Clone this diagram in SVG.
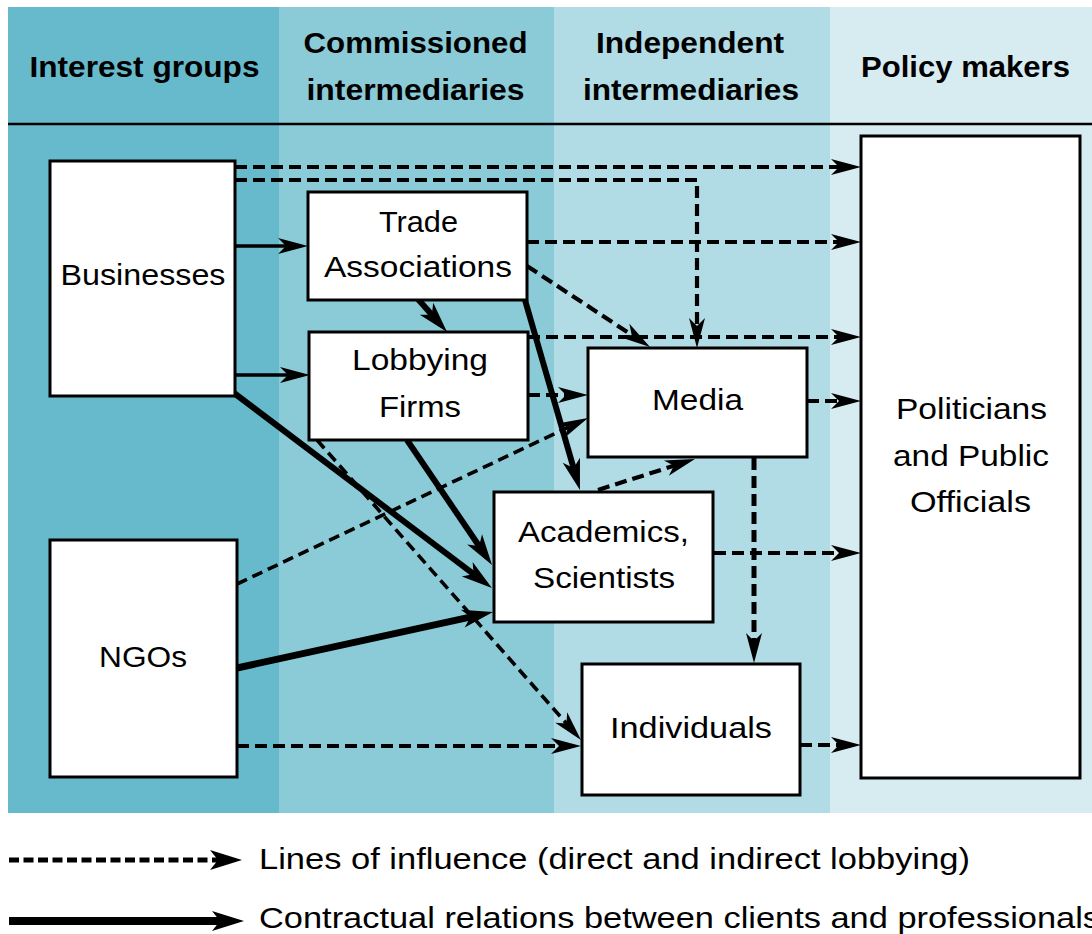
<svg xmlns="http://www.w3.org/2000/svg" width="1092" height="934" viewBox="0 0 1092 934">
  <style>
    text { font-family: "Liberation Sans", Arial, sans-serif; fill: #000; }
    .hdr { font-size: 29px; font-weight: bold; text-anchor: middle; }
    .lbl { font-size: 30px; text-anchor: middle; }
    .leg { font-size: 30px; }
    .box { fill: #fff; stroke: #000; stroke-width: 3; }
    .inf { fill: none; stroke: #000; stroke-width: 4.2; stroke-dasharray: 12 6; marker-end: url(#ah); }
    .infd { fill: none; stroke: #000; stroke-width: 3.6; stroke-dasharray: 11 6; marker-end: url(#ah); }
    .con { fill: none; stroke: #000; stroke-width: 3.5; marker-end: url(#ah); }
    .conb { fill: none; stroke: #000; stroke-width: 6; marker-end: url(#big); }
  </style>
  <defs>
    <marker id="ah" markerUnits="userSpaceOnUse" markerWidth="30" markerHeight="16" refX="12" refY="8" orient="auto" overflow="visible">
      <path d="M0,0 L30,8 L0,16 L8,8 Z" fill="#000"/>
    </marker>
    <marker id="big" markerUnits="userSpaceOnUse" markerWidth="31" markerHeight="18" refX="11" refY="9" orient="auto" overflow="visible">
      <path d="M0,0 L31,9 L0,18 L8,9 Z" fill="#000"/>
    </marker>
    <marker id="leg" markerUnits="userSpaceOnUse" markerWidth="32" markerHeight="20" refX="12" refY="10" orient="auto" overflow="visible">
      <path d="M0,0 L32,10 L0,20 L8,10 Z" fill="#000"/>
    </marker>
  </defs>

  <rect width="1092" height="934" fill="#fff"/>

  <!-- column bands -->
  <g id="columns">
    <rect x="8" y="7" width="271" height="806" fill="#67bacc"/>
    <rect x="279" y="7" width="275" height="806" fill="#8bcbd7"/>
    <rect x="554" y="7" width="276" height="806" fill="#b1dce5"/>
    <rect x="830" y="7" width="262" height="806" fill="#d7ecf1"/>
    <line x1="8" y1="124" x2="1092" y2="124" stroke="#000" stroke-width="2.5"/>
  </g>

  <!-- column headings -->
  <g id="headings">
    <text class="hdr" x="144.5" y="77" textLength="230" lengthAdjust="spacingAndGlyphs">Interest groups</text>
    <text class="hdr" x="415.5" y="53" textLength="224" lengthAdjust="spacingAndGlyphs">Commissioned</text>
    <text class="hdr" x="415.5" y="100" textLength="218" lengthAdjust="spacingAndGlyphs">intermediaries</text>
    <text class="hdr" x="690" y="53" textLength="188" lengthAdjust="spacingAndGlyphs">Independent</text>
    <text class="hdr" x="691" y="100" textLength="216" lengthAdjust="spacingAndGlyphs">intermediaries</text>
    <text class="hdr" x="965.5" y="77" textLength="209" lengthAdjust="spacingAndGlyphs">Policy makers</text>
  </g>

  <!-- connectors (line ends stop short of the tip; the marker carries the point) -->
  <g id="connectors">
    <!-- lines of influence -->
    <path class="inf" d="M235,167 H843"/>
    <path class="inf" d="M235,180 H697 V330"/>
    <path class="inf" d="M527,242 H843"/>
    <path class="inf" d="M527,266 L635,337.1"/>
    <path class="inf" d="M528,337 H843"/>
    <path class="inf" d="M528,395 H570"/>
    <path class="inf" d="M807,401 H843"/>
    <path class="infd" d="M237,584 L571.7,425.7"/>
    <path class="inf" d="M598,490 L677.8,464.5"/>
    <path class="inf" d="M714,553 H843"/>
    <path class="inf" d="M754,458 V645" style="stroke-width:5"/>
    <path class="inf" d="M800,745 H843"/>
    <path class="inf" d="M237,746 H563"/>
    <path class="infd" d="M317,440 L569.1,726.5"/>
    <!-- contractual relations -->
    <path class="con" d="M235,246 H290"/>
    <path class="con" d="M235,375 H292"/>
    <path class="conb" d="M417,298 L433.8,317"/>
    <path class="conb" d="M525,300 L574.4,470.8"/>
    <path class="conb" d="M234,393 L476,575.9"/>
    <path class="conb" d="M407,440 L480.8,548.5"/>
    <path class="conb" d="M237,668 L473.5,616.3" style="stroke-width:7"/>
  </g>

  <!-- nodes -->
  <g id="businesses">
    <rect class="box" x="50" y="161" width="185" height="235"/>
    <text class="lbl" x="143" y="285" textLength="165" lengthAdjust="spacingAndGlyphs">Businesses</text>
  </g>
  <g id="ngos">
    <rect class="box" x="50" y="540" width="187" height="237"/>
    <text class="lbl" x="143" y="667" textLength="88" lengthAdjust="spacingAndGlyphs">NGOs</text>
  </g>
  <g id="trade-associations">
    <rect class="box" x="308" y="192" width="219" height="108"/>
    <text class="lbl" x="418.5" y="232" textLength="79" lengthAdjust="spacingAndGlyphs">Trade</text>
    <text class="lbl" x="418" y="277" textLength="188" lengthAdjust="spacingAndGlyphs">Associations</text>
  </g>
  <g id="lobbying-firms">
    <rect class="box" x="309" y="332" width="219" height="108"/>
    <text class="lbl" x="420" y="370" textLength="136" lengthAdjust="spacingAndGlyphs">Lobbying</text>
    <text class="lbl" x="420" y="417" textLength="82" lengthAdjust="spacingAndGlyphs">Firms</text>
  </g>
  <g id="media">
    <rect class="box" x="588" y="348" width="219" height="109"/>
    <text class="lbl" x="697.5" y="410" textLength="91" lengthAdjust="spacingAndGlyphs">Media</text>
  </g>
  <g id="academics">
    <rect class="box" x="494" y="492" width="219" height="130"/>
    <text class="lbl" x="603.5" y="542" textLength="171" lengthAdjust="spacingAndGlyphs">Academics,</text>
    <text class="lbl" x="604" y="588" textLength="142" lengthAdjust="spacingAndGlyphs">Scientists</text>
  </g>
  <g id="individuals">
    <rect class="box" x="582" y="664" width="218" height="131"/>
    <text class="lbl" x="691" y="738" textLength="162" lengthAdjust="spacingAndGlyphs">Individuals</text>
  </g>
  <g id="policy-makers">
    <rect class="box" x="861" y="136" width="219" height="642"/>
    <text class="lbl" x="971.5" y="419" textLength="151" lengthAdjust="spacingAndGlyphs">Politicians</text>
    <text class="lbl" x="971" y="466" textLength="156" lengthAdjust="spacingAndGlyphs">and Public</text>
    <text class="lbl" x="970.5" y="512" textLength="121" lengthAdjust="spacingAndGlyphs">Officials</text>
  </g>

  <!-- legend -->
  <g id="legend">
    <path d="M9,860 H222" fill="none" stroke="#000" stroke-width="5" stroke-dasharray="10 4.5" marker-end="url(#leg)"/>
    <path d="M9,921 H224" fill="none" stroke="#000" stroke-width="8" marker-end="url(#leg)"/>
    <text class="leg" x="259" y="869" textLength="711" lengthAdjust="spacingAndGlyphs">Lines of influence (direct and indirect lobbying)</text>
    <text class="leg" x="259" y="928" textLength="841" lengthAdjust="spacingAndGlyphs">Contractual relations between clients and professionals</text>
  </g>
</svg>
